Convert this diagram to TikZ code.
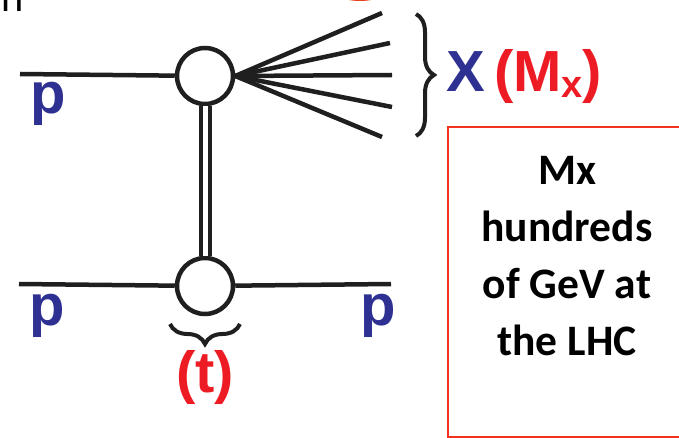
\documentclass[tikz,border=0pt]{standalone}
\usepackage{fontspec}
\setmainfont{Liberation Sans}
\newfontfamily\boxfont{Carlito}
\usetikzlibrary{decorations.pathreplacing, positioning}

\definecolor{pblue}{RGB}{46,49,146}
\definecolor{mred}{RGB}{237,28,36}
\definecolor{ringred}{RGB}{232,64,28}
\definecolor{boxred}{RGB}{240,50,30}

\begin{document}
\begin{tikzpicture}[
        x=1pt, y=-1pt,
        line/.style={line width=4.5pt, draw=black!88},
        blob/.style={circle, draw=black!88, line width=4.5pt, fill=white,
                     minimum size=56pt, inner sep=0pt},
        proton/.style={text=pblue, font=\fontsize{58}{58}\selectfont\bfseries,
                       anchor=base, inner sep=0pt},
        redlbl/.style={text=mred, font=\fontsize{58}{58}\selectfont\bfseries,
                       anchor=base, inner sep=0pt},
        brc/.style={draw=black!88, line width=4pt,
                    decorate, decoration={brace, amplitude=18pt}}
    ]
        \useasboundingbox (0,0) rectangle (679,438);
        \clip (0,0) rectangle (679,438);

        % cut-off pieces at the top edge
        \node[anchor=base west, inner sep=0pt, font=\fontsize{40}{40}\selectfont] (frag) at (1,12) {n};
        \draw[ringred, line width=4pt] (360,-29) ellipse [x radius=42pt, y radius=28pt];

        % vertices
        \node[blob] (tv) at (205,76)  {};
        \node[blob] (bv) at (205,286) {};

        \coordinate (pin1) at (20,74);
        \coordinate (pin2) at (19,284);
        \coordinate (pout) at (391,284);

        \draw[line] (pin1) -- (tv);
        \draw[line] (pin2) -- (bv);
        \draw[line] (bv) -- (pout);
        \draw[line, double=white, double distance=5pt, line width=4pt] (tv) -- (bv);

        % fan of X
        \coordinate (x1) at (382,13);
        \coordinate (x2) at (390,43);
        \coordinate (x3) at (392,75);
        \coordinate (x4) at (392,107);
        \coordinate (x5) at (382,137);
        \foreach \k in {1,...,5}
            \draw[line] (tv.east) -- (x\k);

        % braces
        \coordinate (bt) at (416,14);
        \coordinate (bb) at (416,136);
        \draw[brc] (bt) -- (bb);
        \coordinate (tl) at (170,324);
        \coordinate (tr) at (240,324);
        \draw[brc, decoration={amplitude=20pt}] (tr) -- (tl);

        % labels
        \node[proton] (p1) at (48,114)  {p};
        \node[proton] (p2) at (47,325)  {p};
        \node[proton] (p3) at (378,325) {p};
        \node[proton, anchor=base west] (xl) at (446,92) {X};
        \node[redlbl, anchor=base west] (mx) at (494,92)
            {(M\raisebox{-6pt}{\fontsize{38}{38}\selectfont x})};
        \node[redlbl] (tlab) at (205,392) {(t)};

        % remark box
        \draw[boxred, line width=2pt] (448,127) rectangle (700,437);
        \node[align=center, inner sep=0pt, anchor=base,
              font=\boxfont\fontsize{43.5}{57}\selectfont\bfseries] (note) at (567,355)
            {Mx\\hundreds\\of GeV at\\the LHC};
    \end{tikzpicture}
\end{document}
